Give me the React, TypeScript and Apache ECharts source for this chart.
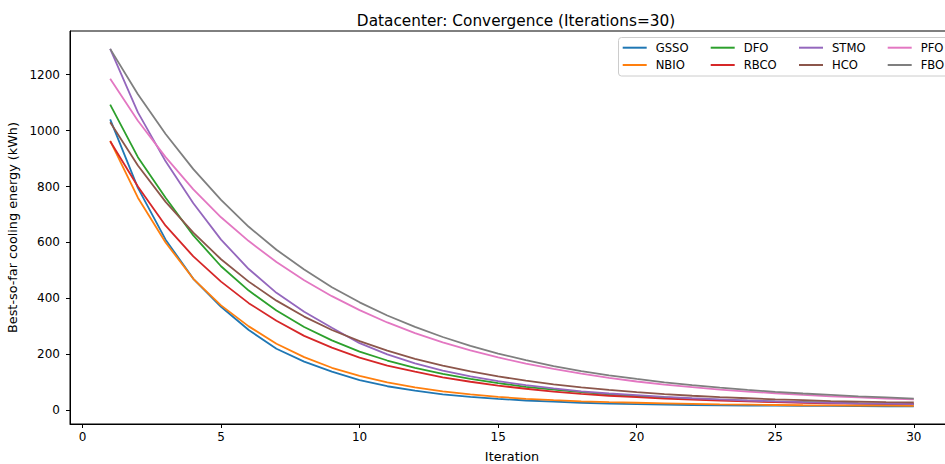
import React, { useEffect, useRef } from "react";
import * as echarts from "echarts";

const iterations = [1, 2, 3, 4, 5, 6, 7, 8, 9, 10, 11, 12, 13, 14, 15, 16, 17, 18, 19, 20, 21, 22, 23, 24, 25, 26, 27, 28, 29, 30];

const GSSO = [1040, 795, 610, 470, 370, 287, 220, 174, 138, 108, 86, 70, 57, 48, 41, 35, 31, 27, 24, 22, 20, 19, 18, 17, 16.5, 16, 15.5, 15, 14.5, 14];
const NBIO = [963, 760, 600, 470, 375, 300, 238, 190, 152, 123, 100, 82, 68, 57, 48, 41, 36, 32, 29, 27, 25, 23, 21, 20, 19, 18, 17.5, 17, 16.5, 16];
const DFO = [1093, 905, 760, 625, 515, 428, 357, 298, 250, 210, 178, 152, 130, 112, 97, 84, 74, 65, 57, 51, 46, 41, 37, 34, 31, 29, 27, 25, 24, 23];
const RBCO = [962, 800, 660, 550, 460, 383, 320, 266, 224, 188, 160, 138, 118, 102, 88, 77, 67, 59, 52, 47, 42, 38, 35, 32, 29, 27, 25, 24, 23, 22];
const STMO = [1292, 1065, 890, 740, 610, 505, 420, 352, 295, 240, 200, 168, 142, 121, 104, 90, 78, 68, 60, 54, 48, 43, 39, 35, 32, 29, 27, 25, 24, 22];
const HCO = [1030, 875, 745, 635, 540, 460, 392, 335, 287, 247, 213, 184, 160, 139, 121, 106, 93, 82, 73, 65, 58, 52, 47, 43, 39, 36, 33, 31, 29, 28];
const PFO = [1185, 1035, 905, 790, 690, 605, 530, 465, 408, 358, 314, 276, 243, 214, 189, 167, 148, 131, 116, 103, 92, 83, 74, 67, 61, 55, 50, 46, 42, 39];
const FBO = [1292, 1130, 988, 862, 752, 656, 574, 503, 440, 386, 339, 298, 262, 230, 203, 179, 158, 140, 125, 112, 100, 90, 81, 73, 66, 60, 55, 50, 46, 42];

const seriesNames = ["GSSO", "NBIO", "DFO", "RBCO", "STMO", "HCO", "PFO", "FBO"];
const seriesValues = [GSSO, NBIO, DFO, RBCO, STMO, HCO, PFO, FBO];
const seriesColors = ["#1f77b4", "#ff7f0e", "#2ca02c", "#d62728", "#9467bd", "#8c564b", "#e377c2", "#7f7f7f"];

const xTicks = [0, 5, 10, 15, 20, 25, 30];
const yTicks = [0, 200, 400, 600, 800, 1000, 1200];

// legend layout: row-major order as shown in the reference (4 columns)
const legendRows = [
  ["GSSO", "DFO", "STMO", "PFO"],
  ["NBIO", "RBCO", "HCO", "FBO"],
];

const FONT = "DejaVu Sans";

export default function App() {
  const ref = useRef<HTMLDivElement>(null);

  useEffect(() => {
    if (!ref.current) return;
    const chart = echarts.init(ref.current, null, { renderer: "svg" });

    const legendColX = [622.7, 710.7, 799, 887.7];
    const legendRowY = [47.7, 65];
    const legends: any[] = [];
    legendRows.forEach((row, r) => {
      row.forEach((name, c) => {
        legends.push({
          data: [name],
          left: legendColX[c],
          top: legendRowY[r] - 7,
          padding: 0,
          itemWidth: 24,
          itemHeight: 2,
          icon: "rect",
          selectedMode: false,
          textStyle: {
            fontFamily: FONT,
            fontSize: 11.6,
            color: "#000",
            padding: [0, 0, 0, 4],
            lineHeight: 14,
          },
          z: 10,
        });
      });
    });

    const option: any = {
      animation: false,
      backgroundColor: "#fff",
      title: {
        text: "Datacenter: Convergence (Iterations=30)",
        left: 511,
        top: 8,
        textAlign: "center",
        textStyle: { fontFamily: FONT, fontSize: 15.3, fontWeight: "normal", color: "#000" },
      },
      grid: {
        left: 70,
        top: 31,
        width: 884,
        bottom: 40,
        outerBoundsMode: "none",
        containLabel: false,
        show: true,
        borderColor: "#000",
        borderWidth: 1,
        backgroundColor: "transparent",
      },
      legend: legends,
      graphic: [
        {
          type: "rect",
          shape: { x: 618.5, y: 37.5, width: 340, height: 38.5, r: 3 },
          style: { fill: "rgba(255,255,255,0.8)", stroke: "#cccccc", lineWidth: 1 },
          z: 5,
        },
      ],
      xAxis: {
        type: "value",
        min: -0.45,
        max: 31.45,
        name: "Iteration",
        nameLocation: "middle",
        nameGap: 26,
        nameTextStyle: { fontFamily: FONT, fontSize: 12.8, color: "#000" },
        axisLine: { show: true, onZero: false, lineStyle: { color: "#000", width: 1 } },
        axisTick: { show: true, length: 4, customValues: xTicks, lineStyle: { color: "#000" } },
        axisLabel: { customValues: xTicks, margin: 7, fontFamily: FONT, fontSize: 12, color: "#000" },
        splitLine: { show: false },
      },
      yAxis: {
        type: "value",
        min: -49,
        max: 1356,
        name: "Best-so-far cooling energy (kWh)",
        nameLocation: "middle",
        nameGap: 42,
        nameTextStyle: { fontFamily: FONT, fontSize: 12.8, color: "#000" },
        axisLine: { show: true, onZero: false, lineStyle: { color: "#000", width: 1 } },
        axisTick: { show: true, length: 4, customValues: yTicks, lineStyle: { color: "#000" } },
        axisLabel: {
          customValues: yTicks,
          margin: 10,
          fontFamily: FONT,
          fontSize: 12,
          color: "#000",
          formatter: (v: number) => String(v),
        },
        splitLine: { show: false },
      },
      series: seriesNames.map((name, i) => ({
        name,
        type: "line",
        data: iterations.map((it, j) => [it, seriesValues[i][j]]),
        symbol: "none",
        showSymbol: false,
        color: seriesColors[i],
        lineStyle: { width: 1.8, color: seriesColors[i] },
        z: 2,
      })),
    };

    chart.setOption(option);
    return () => chart.dispose();
  }, []);

  return (
    <div
      ref={ref}
      style={{ position: "fixed", left: 0, top: 0, width: 945, height: 464, background: "#fff" }}
    />
  );
}
